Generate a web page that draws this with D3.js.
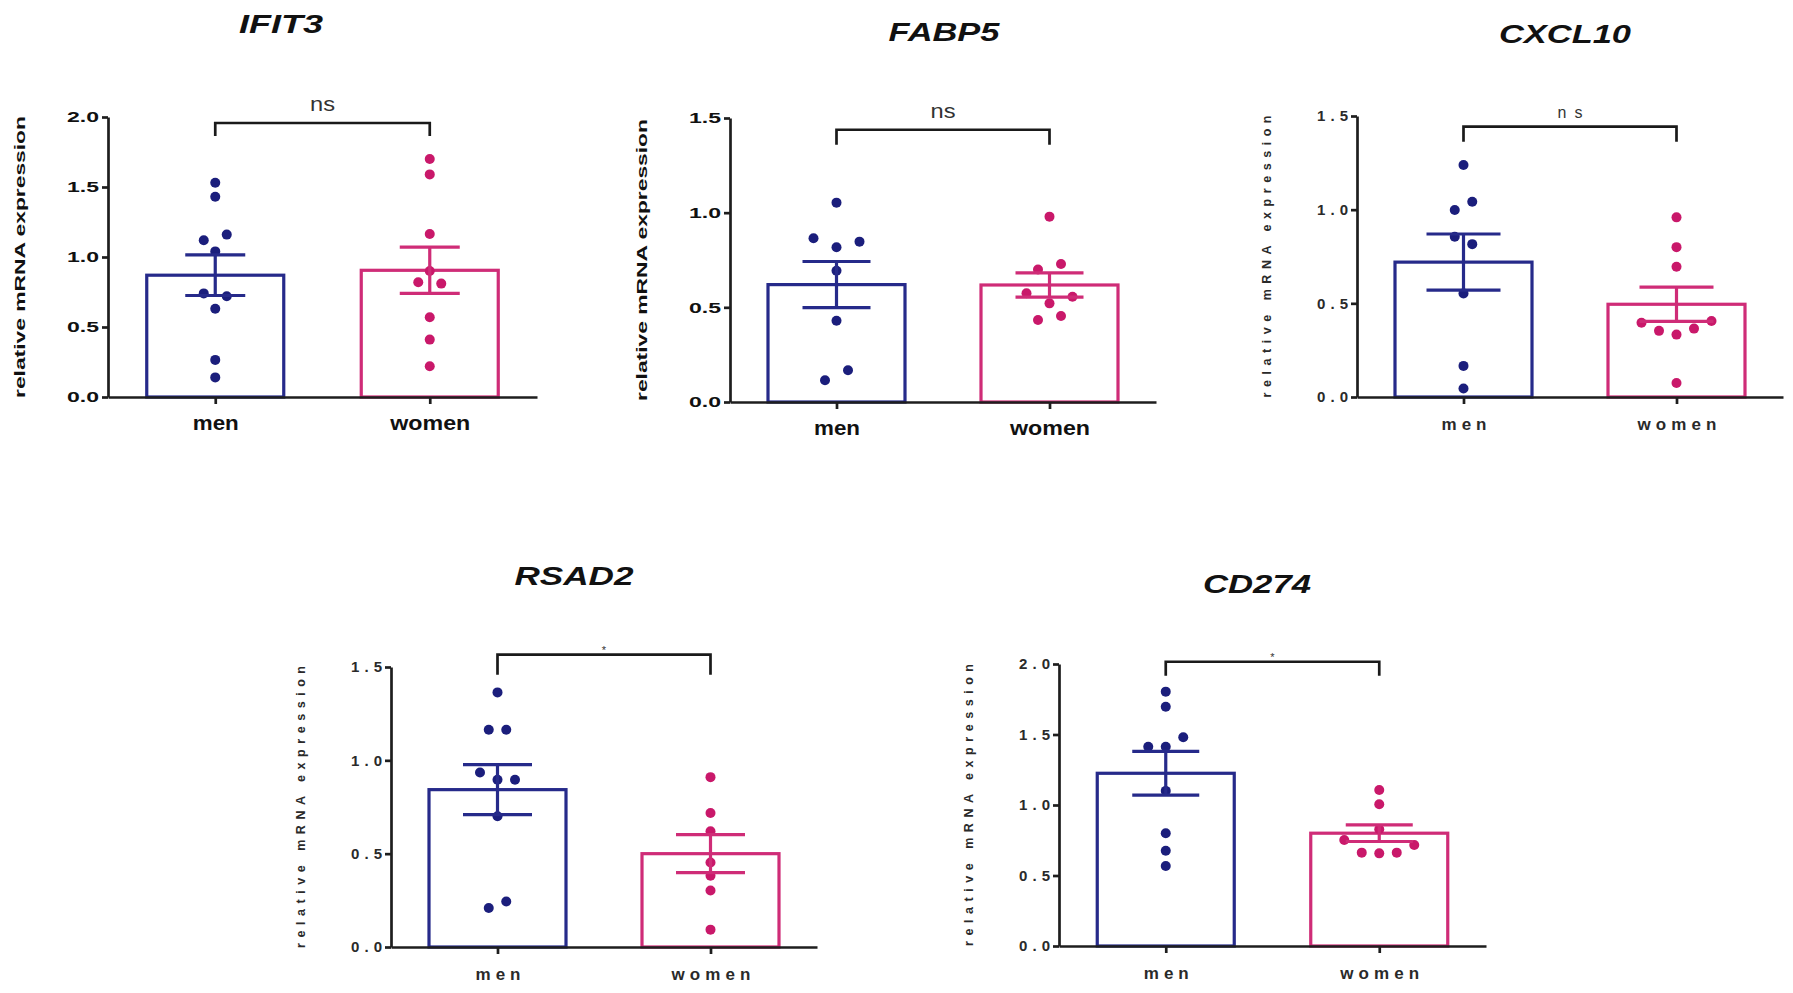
<!DOCTYPE html>
<html>
<head>
<meta charset="utf-8">
<script src="https://cdn.jsdelivr.net/npm/d3@7"></script>
<style>
  body { margin: 0; background: #fff; }
  svg { display: block; }
</style>
</head>
<body>
<div id="chart"></div>
<script>
// Chart values
const genes = ["IFIT3", "FABP5", "CXCL10", "RSAD2", "CD274"];
const groups = ["men", "women"];
const significance = ["ns", "ns", "ns", "*", "*"];
const yMax = [2.0, 1.5, 1.5, 1.5, 2.0];
const yTicks = [
  [0, 0.5, 1.0, 1.5, 2.0],
  [0, 0.5, 1.0, 1.5],
  [0, 0.5, 1.0, 1.5],
  [0, 0.5, 1.0, 1.5],
  [0, 0.5, 1.0, 1.5, 2.0]
];

// bar height (mean) and SEM
const menMean = [0.87, 0.62, 0.72, 0.843, 1.225];
const menSem = [0.145, 0.122, 0.15, 0.134, 0.155];
const womenMean = [0.905, 0.618, 0.495, 0.50, 0.80];
const womenSem = [0.165, 0.064, 0.091, 0.102, 0.059];

// individual samples, top to bottom (left to right inside a row)
const menValues = [
  [1.53, 1.43, 1.12, 1.16, 1.04, 0.74, 0.72, 0.63, 0.265, 0.14],
  [1.053, 0.865, 0.817, 0.847, 0.693, 0.429, 0.115, 0.168],
  [1.238, 0.998, 1.042, 0.855, 0.816, 0.553, 0.166, 0.045],
  [1.364, 1.164, 1.164, 0.935, 0.896, 0.896, 0.70, 0.209, 0.244],
  [1.804, 1.697, 1.413, 1.413, 1.48, 1.10, 0.80, 0.676, 0.567]
];
const womenValues = [
  [1.70, 1.59, 1.164, 0.90, 0.82, 0.81, 0.57, 0.41, 0.22],
  [0.979, 0.70, 0.729, 0.574, 0.521, 0.556, 0.433, 0.454],
  [0.959, 0.80, 0.695, 0.396, 0.353, 0.333, 0.365, 0.406, 0.075],
  [0.91, 0.718, 0.62, 0.453, 0.382, 0.303, 0.093],
  [1.106, 1.005, 0.828, 0.752, 0.662, 0.657, 0.662, 0.716]
];

// where each panel sits on the page
const layout = [
  { x0: 108, y0: 397, yTop: 117, xEnd: 537, spacing: 23, capW: 60, bracket: 1.957, drop: 13, titleX: 281, titleY: 33, titleW: 84, style: "bold" },
  { x0: 730, y0: 402, yTop: 118, xEnd: 1156, spacing: 23, capW: 68, bracket: 1.438, drop: 15, titleX: 944, titleY: 41, titleW: 111, style: "bold" },
  { x0: 1357, y0: 397, yTop: 116, xEnd: 1783, spacing: 17.5, capW: 74, bracket: 1.443, drop: 15, titleX: 1565, titleY: 43, titleW: 132, style: "spaced" },
  { x0: 391, y0: 947, yTop: 667, xEnd: 817, spacing: 17.5, capW: 69, bracket: 1.566, drop: 20, titleX: 574, titleY: 585, titleW: 119, style: "spaced" },
  { x0: 1059, y0: 946, yTop: 664, xEnd: 1486, spacing: 17.5, capW: 67, bracket: 2.016, drop: 14, titleX: 1257, titleY: 593, titleW: 108, style: "spaced" }
];

const colors = { men: "#1b1e7c", women: "#c9186a" };
const barColors = { men: "#262a8a", women: "#cf2c77" };
const font = "'Liberation Sans', Arial, Helvetica, sans-serif";

const svg = d3.select("#chart")
  .append("svg")
  .attr("width", 1793)
  .attr("height", 993)
  .style("font-family", font);

// simple row-based beeswarm: close values share a row, spread symmetrically
function swarm(values, y, spacing) {
  const order = values.map((v, i) => i).sort((a, b) => values[b] - values[a] || a - b);
  const rows = [];
  let prev = null;
  order.forEach(i => {
    const py = y(values[i]);
    if (prev === null || py - prev > 10.4) rows.push([]);
    rows[rows.length - 1].push(i);
    prev = py;
  });
  const offs = new Array(values.length);
  rows.forEach(r => {
    r.sort((a, b) => a - b);
    r.forEach((i, k) => offs[i] = (k - (r.length - 1) / 2) * spacing);
  });
  return offs;
}

function fit(sel, len, adjust) {
  return sel.attr("textLength", len).attr("lengthAdjust", adjust);
}

function drawPanel(p) {
  const L = layout[p];
  const spaced = L.style === "spaced";
  const adjust = spaced ? "spacing" : "spacingAndGlyphs";
  const textColor = spaced ? "#2a2a2a" : "#111";
  const W = L.xEnd - L.x0;

  const g = svg.append("g").attr("transform", "translate(" + L.x0 + ",0)");

  const x = d3.scalePoint().domain(groups).range([0, W]).padding(0.5);
  const y = d3.scaleLinear().domain([0, yMax[p]]).range([L.y0, L.yTop]);

  const means = { men: menMean[p], women: womenMean[p] };
  const sems = { men: menSem[p], women: womenSem[p] };
  const points = { men: menValues[p], women: womenValues[p] };

  // Title
  fit(svg.append("text")
    .attr("x", L.titleX)
    .attr("y", L.titleY)
    .attr("text-anchor", "middle")
    .style("font-size", "26px")
    .style("font-weight", "bold")
    .style("font-style", "italic")
    .style("fill", "#111")
    .text(genes[p]), L.titleW, "spacingAndGlyphs");

  // Bars
  const barW = 137;
  g.selectAll(".bar")
    .data(groups)
    .enter()
    .append("rect")
    .attr("x", d => x(d) - barW / 2)
    .attr("y", d => y(means[d]))
    .attr("width", barW)
    .attr("height", d => L.y0 - y(means[d]))
    .style("fill", "#fff")
    .style("stroke", d => barColors[d])
    .style("stroke-width", 3.2);

  // Dots
  groups.forEach(grp => {
    const offs = swarm(points[grp], y, L.spacing);
    g.append("g")
      .selectAll("circle")
      .data(points[grp])
      .enter()
      .append("circle")
      .attr("cx", (d, i) => x(grp) + offs[i])
      .attr("cy", d => y(d))
      .attr("r", 5)
      .style("fill", colors[grp]);
  });

  // Error bars (mean ± SEM)
  groups.forEach(grp => {
    const cx = x(grp);
    const top = y(means[grp] + sems[grp]);
    const bot = y(means[grp] - sems[grp]);
    const eg = g.append("g").style("stroke", barColors[grp]).style("stroke-width", 3.2);
    eg.append("line").attr("x1", cx).attr("x2", cx).attr("y1", top).attr("y2", bot);
    eg.append("line").attr("x1", cx - L.capW / 2).attr("x2", cx + L.capW / 2).attr("y1", top).attr("y2", top);
    eg.append("line").attr("x1", cx - L.capW / 2).attr("x2", cx + L.capW / 2).attr("y1", bot).attr("y2", bot);
  });

  // Y axis
  const yAxis = g.append("g")
    .call(d3.axisLeft(y).tickValues(yTicks[p]).tickFormat(d3.format(".1f")).tickSize(6).tickSizeOuter(0).tickPadding(3));
  yAxis.selectAll("path, line").style("stroke", "#1e1e1e").style("stroke-width", 2.7);
  fit(yAxis.selectAll("text")
    .style("font-size", "15px")
    .style("font-weight", "bold")
    .style("fill", textColor)
    .style("font-family", font), spaced ? 31 : 32, adjust);

  // X axis
  const xAxis = g.append("g")
    .attr("transform", "translate(0," + L.y0 + ")")
    .call(d3.axisBottom(x).tickSize(7).tickSizeOuter(0));
  xAxis.selectAll("path, line").style("stroke", "#1e1e1e").style("stroke-width", 2.7);
  xAxis.selectAll("text")
    .attr("y", 33)
    .attr("dy", null)
    .style("font-size", spaced ? "17px" : "20px")
    .style("font-weight", "bold")
    .style("fill", textColor)
    .style("font-family", font)
    .attr("textLength", d => d === "men" ? (spaced ? 45 : 46) : (spaced ? 79 : 80))
    .attr("lengthAdjust", adjust);

  // Y label
  fit(g.append("text")
    .attr("transform", "translate(" + (spaced ? -86 : -83) + "," + ((L.y0 + L.yTop) / 2) + ") rotate(-90)")
    .attr("text-anchor", "middle")
    .style("font-size", spaced ? "12.5px" : "15px")
    .style("font-weight", "bold")
    .style("fill", textColor)
    .text("relative mRNA expression"), 282, adjust);

  // Significance bracket
  const by = y(L.bracket);
  const x1 = x("men"), x2 = x("women");
  g.append("path")
    .attr("d", "M" + x1 + "," + (by + L.drop) + "V" + by + "H" + x2 + "V" + (by + L.drop))
    .style("fill", "none")
    .style("stroke", "#1a1a1a")
    .style("stroke-width", 2.7);

  const sig = significance[p];
  const sigText = g.append("text")
    .attr("x", (x1 + x2) / 2)
    .attr("text-anchor", "middle")
    .style("fill", "#333")
    .text(sig);
  if (sig === "ns") {
    sigText.attr("y", by - (spaced ? 9 : 12))
      .style("font-size", spaced ? "16px" : "21px");
    fit(sigText, 25, adjust);
  } else {
    sigText.attr("y", by - 1).style("font-size", "11px");
  }
}

genes.forEach((gene, i) => drawPanel(i));
</script>
</body>
</html>
